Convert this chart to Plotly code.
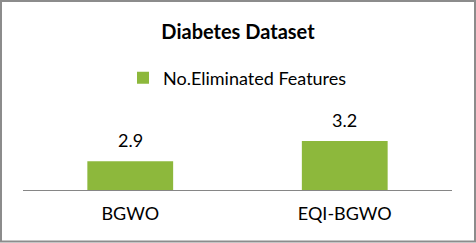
import plotly.graph_objects as go

categories = ["BGWO", "EQI-BGWO"]
values = [2.9, 3.2]
labels = ["2.9", "3.2"]
series_name = "No.Eliminated Features"
title_text = "Diabetes Dataset"

W, H = 476, 243
ml, mr, mt, mb = 23, 24, 100, 53
ph = H - mt - mb
pw = W - ml - mr

font_family = "Lato, Open Sans, sans-serif"

fig = go.Figure()
fig.add_trace(go.Bar(
    x=categories, y=values, name=series_name,
    marker=dict(color="#8DB83C", line=dict(width=0)),
    showlegend=True,
))

for c, v, t in zip(categories, values, labels):
    fig.add_annotation(x=c, y=v, text=t, showarrow=False, yanchor="bottom",
                       yshift=8, font=dict(family=font_family, size=18, color="#000000"))

# paper coords for figure border
def px_x(x):
    return (x - ml) / pw

def px_y(y):
    return (H - mb - y) / ph

fig.add_shape(type="rect", xref="paper", yref="paper",
              x0=px_x(1), x1=px_x(475), y0=px_y(241.5), y1=px_y(1),
              line=dict(color="#8C8C8C", width=2), fillcolor="rgba(0,0,0,0)", layer="below")

fig.update_layout(
    width=W, height=H,
    margin=dict(l=ml, r=mr, t=mt, b=mb),
    paper_bgcolor="white", plot_bgcolor="white",
    bargap=0.6,
    title=dict(text="<b>" + title_text + "</b>", x=0.5, xanchor="center",
               y=1 - 32 / H, yanchor="middle",
               font=dict(family=font_family, size=20, color="#000000")),
    legend=dict(orientation="h", x=0.5, xanchor="center", y=px_y(78), yanchor="middle",
                font=dict(family=font_family, size=18, color="#000000"),
                itemwidth=30, bgcolor="rgba(0,0,0,0)"),
    xaxis=dict(showline=True, linecolor="#868686", linewidth=1, ticks="",
               tickfont=dict(family=font_family, size=18, color="#000000"),
               ticklabelstandoff=7,
               showgrid=False, zeroline=False),
    yaxis=dict(range=[2.476, 3.806], visible=False, showgrid=False, zeroline=False),
)

fig.write_html("out.html", config={"displayModeBar": False},
               post_script="document.body.style.margin='0';document.body.style.overflow='hidden';")
